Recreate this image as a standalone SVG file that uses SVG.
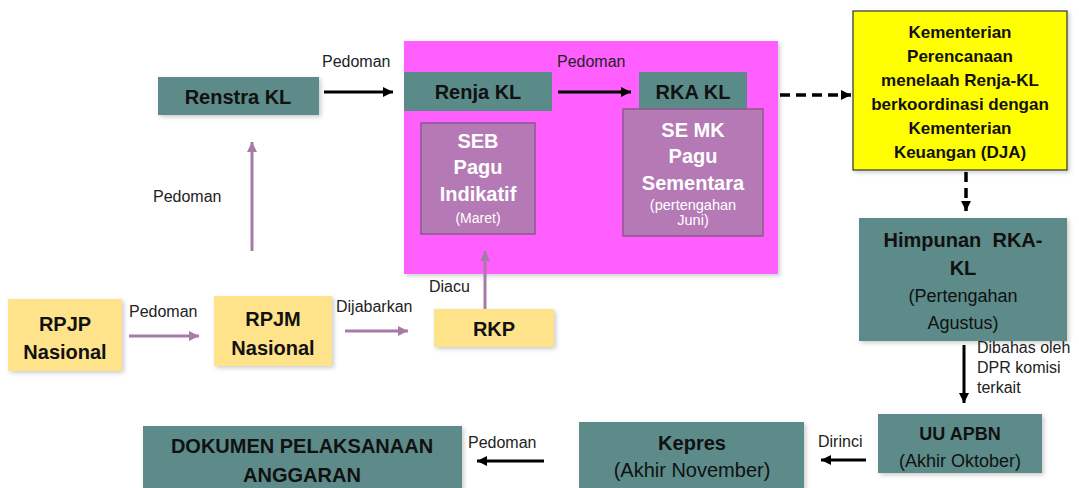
<svg xmlns="http://www.w3.org/2000/svg" width="1079" height="488" viewBox="0 0 1079 488">
<style>
text{font-family:"Liberation Sans",Arial,sans-serif;text-anchor:middle}
.b{font-weight:bold;fill:#111}
.w{font-weight:bold;fill:#fff}
.lbl{font-size:16px;fill:#222;text-anchor:start}
.teal{fill:#5B8B89}
.yel{fill:#FFE38A}
.mauve{fill:#B57AB5;stroke:#8A5A8A;stroke-width:1.5}
.blk{stroke:#000;stroke-width:3;fill:none}
.pur{stroke:#A77BA7;stroke-width:3;fill:none}
.dash{stroke:#000;stroke-width:3.5;fill:none;stroke-dasharray:10 6}
</style>
<defs>
<filter id="sh" x="-10%" y="-10%" width="130%" height="130%">
<feDropShadow dx="2" dy="2" stdDeviation="2" flood-color="#000" flood-opacity="0.2"/>
</filter>
<marker id="ab" viewBox="0 0 10 10" refX="10" refY="5" markerWidth="10" markerHeight="10" markerUnits="userSpaceOnUse" orient="auto">
<path d="M0,0 L10,5 L0,10 z" fill="#000"/>
</marker>
<marker id="ap" viewBox="0 0 10 10" refX="10" refY="5" markerWidth="10" markerHeight="10" markerUnits="userSpaceOnUse" orient="auto">
<path d="M0,0 L10,5 L0,10 z" fill="#A77BA7"/>
</marker>
</defs>
<rect width="1079" height="488" fill="#fff"/>

<g id="pink-area">
<rect x="404" y="41" width="374" height="233" fill="#FF5EFF" filter="url(#sh)"/>
</g>

<g id="renstra">
<rect class="teal" x="158" y="77" width="161" height="38" filter="url(#sh)"/>
<text class="b" x="238" y="104" font-size="20">Renstra KL</text>
</g>
<g id="renja">
<rect class="teal" x="404" y="72" width="148" height="39"/>
<text class="b" x="478" y="99" font-size="20">Renja KL</text>
</g>
<g id="rka">
<rect class="teal" x="639" y="72" width="108" height="38"/>
<text class="b" x="693" y="99" font-size="20">RKA KL</text>
</g>
<g id="seb">
<rect class="mauve" x="421" y="123" width="114" height="111"/>
<text class="w" x="478" y="148" font-size="20">SEB</text>
<text class="w" x="478" y="174" font-size="20">Pagu</text>
<text class="w" x="478" y="201" font-size="20">Indikatif</text>
<text x="478" y="223" font-size="14" fill="#fff">(Maret)</text>
</g>
<g id="semk">
<rect class="mauve" x="623" y="109" width="140" height="127"/>
<text class="w" x="693" y="137" font-size="20">SE MK</text>
<text class="w" x="693" y="163" font-size="20">Pagu</text>
<text class="w" x="693" y="190" font-size="20">Sementara</text>
<text x="693" y="210" font-size="14.5" fill="#fff">(pertengahan</text>
<text x="693" y="225" font-size="14.5" fill="#fff">Juni)</text>
</g>
<g id="kementerian">
<rect x="853" y="11" width="214" height="159" fill="#FFFF00" stroke="#333" stroke-width="1.2" filter="url(#sh)"/>
<text class="b" x="960" y="38" font-size="17">Kementerian</text>
<text class="b" x="960" y="62" font-size="17">Perencanaan</text>
<text class="b" x="960" y="86" font-size="17">menelaah Renja-KL</text>
<text class="b" x="960" y="110" font-size="17">berkoordinasi dengan</text>
<text class="b" x="960" y="134" font-size="17">Kementerian</text>
<text class="b" x="960" y="158" font-size="17">Keuangan (DJA)</text>
</g>
<g id="himpunan">
<rect class="teal" x="859" y="218" width="208" height="123" filter="url(#sh)"/>
<text class="b" x="963" y="247" font-size="20" xml:space="preserve">Himpunan  RKA-</text>
<text class="b" x="963" y="275" font-size="20">KL</text>
<text x="963" y="302" font-size="18" fill="#111">(Pertengahan</text>
<text x="963" y="329" font-size="18" fill="#111">Agustus)</text>
</g>
<g id="uuapbn">
<rect class="teal" x="878" y="414" width="164" height="59" filter="url(#sh)"/>
<text class="b" x="960" y="440" font-size="18">UU APBN</text>
<text x="960" y="467" font-size="18" fill="#111">(Akhir Oktober)</text>
</g>
<g id="kepres">
<rect class="teal" x="579" y="422" width="225" height="70" filter="url(#sh)"/>
<text class="b" x="692" y="450" font-size="20">Kepres</text>
<text x="692" y="477" font-size="20" fill="#111">(Akhir November)</text>
</g>
<g id="dokumen">
<rect class="teal" x="143" y="426" width="319" height="66" filter="url(#sh)"/>
<text class="b" x="302" y="453" font-size="20">DOKUMEN PELAKSANAAN</text>
<text class="b" x="302" y="482" font-size="20">ANGGARAN</text>
</g>
<g id="rpjp">
<rect class="yel" x="8" y="299" width="114" height="72" filter="url(#sh)"/>
<text class="b" x="65" y="331" font-size="20">RPJP</text>
<text class="b" x="65" y="359" font-size="20">Nasional</text>
</g>
<g id="rpjm">
<rect class="yel" x="214" y="296" width="118" height="70" filter="url(#sh)"/>
<text class="b" x="273" y="326" font-size="20">RPJM</text>
<text class="b" x="273" y="355" font-size="20">Nasional</text>
</g>
<g id="rkp">
<rect class="yel" x="434" y="309" width="120" height="38" filter="url(#sh)"/>
<text class="b" x="494" y="336" font-size="20">RKP</text>
</g>

<g id="connectors">
<line class="blk" x1="324" y1="92" x2="393" y2="92" marker-end="url(#ab)"/>
<line class="blk" x1="558" y1="92" x2="631" y2="92" marker-end="url(#ab)"/>
<line class="dash" x1="780" y1="95" x2="851" y2="95" marker-end="url(#ab)"/>
<line class="dash" x1="966" y1="172" x2="966" y2="211" marker-end="url(#ab)"/>
<line class="blk" x1="964" y1="345" x2="964" y2="403" marker-end="url(#ab)"/>
<line class="blk" x1="866" y1="460" x2="821" y2="460" marker-end="url(#ab)"/>
<line class="blk" x1="544" y1="461" x2="477" y2="461" marker-end="url(#ab)"/>
<line class="pur" x1="129" y1="336" x2="199" y2="336" marker-end="url(#ap)"/>
<line class="pur" x1="345" y1="331" x2="408" y2="331" marker-end="url(#ap)"/>
<line class="pur" x1="252" y1="251" x2="252" y2="142" marker-end="url(#ap)"/>
<line class="pur" x1="485" y1="309" x2="485" y2="251" marker-end="url(#ap)"/>
<text class="lbl" x="322" y="67">Pedoman</text>
<text class="lbl" x="557" y="67">Pedoman</text>
<text class="lbl" x="153" y="202">Pedoman</text>
<text class="lbl" x="129" y="317">Pedoman</text>
<text class="lbl" x="336" y="312">Dijabarkan</text>
<text class="lbl" x="429" y="292">Diacu</text>
<text class="lbl" x="977" y="353">Dibahas oleh</text>
<text class="lbl" x="977" y="373">DPR komisi</text>
<text class="lbl" x="977" y="393">terkait</text>
<text class="lbl" x="818" y="447">Dirinci</text>
<text class="lbl" x="468" y="448">Pedoman</text>
</g>
</svg>
